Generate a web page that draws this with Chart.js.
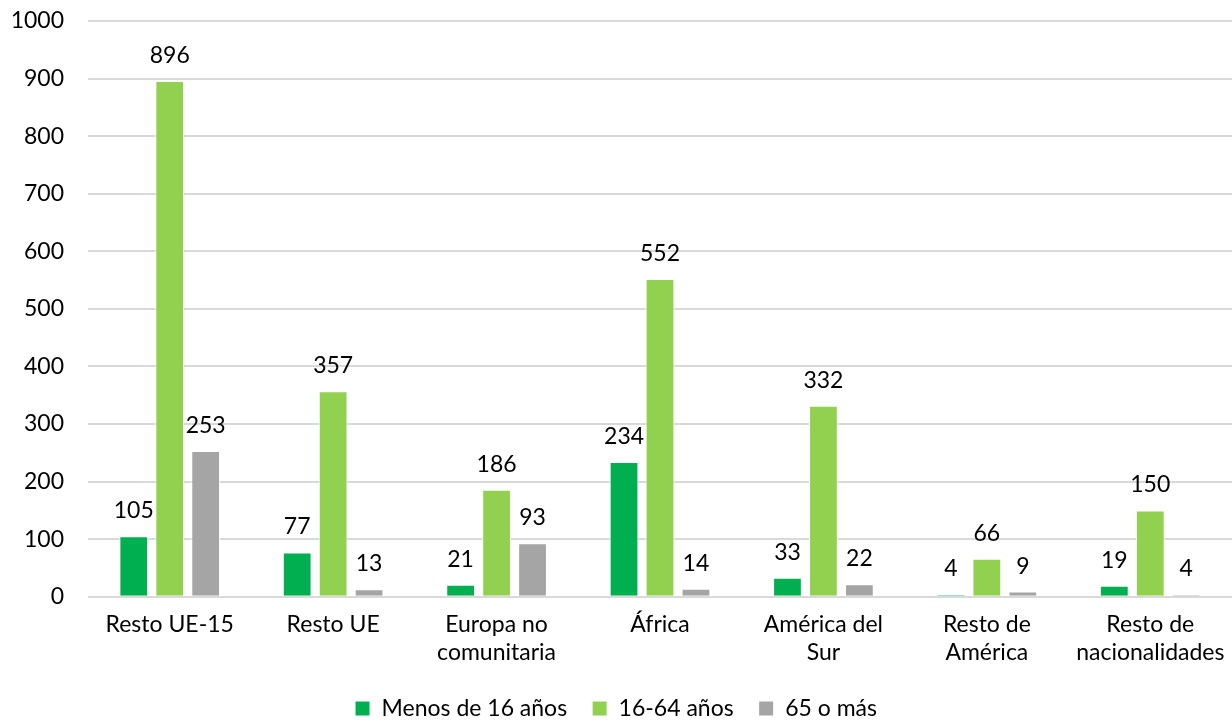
<!DOCTYPE html>
<html lang="es">
<head>
  <meta charset="UTF-8">
  <title>Población extranjera por edad</title>
  <script src="https://cdn.jsdelivr.net/npm/chart.js"></script>
  <style>
    html, body { margin: 0; padding: 0; background: #fff; }
    .wrap { width: 1232px; height: 722px; }
  </style>
</head>
<body>
  <div class="wrap"><canvas id="grafico"></canvas></div>
  <script>
    const categorias = [
      ["Resto UE-15"], ["Resto UE"], ["Europa no", "comunitaria"], ["África"],
      ["América del", "Sur"], ["Resto de", "América"], ["Resto de", "nacionalidades"]
    ];
    const menos16 = [105, 77, 21, 234, 33, 4, 19];
    const de16a64 = [896, 357, 186, 552, 332, 66, 150];
    const mas65 = [253, 13, 93, 14, 22, 9, 4];
    const series = ["Menos de 16 años", "16-64 años", "65 o más"];

    const fuente = "'Lato', 'DejaVu Sans', sans-serif";
    const tam = 23;

    // etiquetas de valor encima de cada barra
    const etiquetas = {
      id: 'etiquetas',
      afterDatasetsDraw(chart) {
        const ctx = chart.ctx;
        ctx.save();
        ctx.font = tam + 'px ' + fuente;
        ctx.fillStyle = '#000';
        ctx.textAlign = 'center';
        ctx.textBaseline = 'alphabetic';
        chart.data.datasets.forEach((ds, i) => {
          chart.getDatasetMeta(i).data.forEach((bar, j) => {
            ctx.fillText(ds.data[j], bar.x, bar.y - 18);
          });
        });
        ctx.restore();
      }
    };

    // acerca la leyenda al borde inferior
    const margenLeyenda = {
      id: 'margenLeyenda',
      beforeInit(chart) {
        const fit = chart.legend.fit;
        chart.legend.fit = function () {
          fit.call(this);
          this.height -= 8;
        };
      }
    };

    new Chart(document.getElementById('grafico'), {
      type: 'bar',
      data: {
        labels: categorias,
        datasets: [
          { label: series[0], data: menos16, backgroundColor: '#00B050' },
          { label: series[1], data: de16a64, backgroundColor: '#92D050' },
          { label: series[2], data: mas65, backgroundColor: '#A5A5A5' }
        ].map(d => Object.assign(d, {
          borderColor: '#fff', borderWidth: 1,
          barPercentage: 0.8, categoryPercentage: 0.66
        }))
      },
      options: {
        responsive: true,
        maintainAspectRatio: false,
        animation: false,
        layout: { padding: 0 },
        scales: {
          x: {
            grid: { display: false },
            border: { display: false },
            ticks: { color: '#000', font: { family: fuente, size: tam, lineHeight: 1.2 }, maxRotation: 0, padding: 6 }
          },
          y: {
            min: 0, max: 1000,
            afterFit(scale) {
              scale.width = 88;
              scale.paddingTop = 21;
            },
            ticks: {
              stepSize: 100, color: '#000', font: { family: fuente, size: tam }, padding: 24,
              callback: v => String(v)
            },
            grid: { color: '#d9d9d9', lineWidth: 2, drawTicks: false },
            border: { display: false }
          }
        },
        plugins: {
          legend: {
            position: 'bottom',
            labels: {
              color: '#000', font: { family: fuente, size: tam },
              boxWidth: 15, boxHeight: 15, padding: 25
            }
          },
          tooltip: { enabled: false }
        }
      },
      plugins: [etiquetas, margenLeyenda]
    });
  </script>
</body>
</html>
